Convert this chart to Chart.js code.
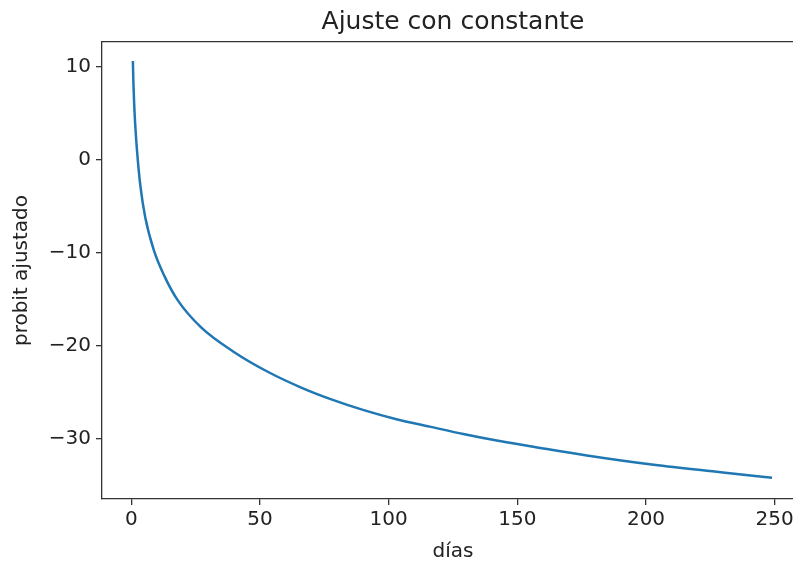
<!DOCTYPE html>
<html>
<head>
<meta charset="utf-8">
<script src="https://cdn.jsdelivr.net/npm/chart.js@4/dist/chart.umd.min.js"></script>
<style>
  html, body { margin: 0; padding: 0; background: #fff; overflow: hidden; }
  #recorte { width: 793px; height: 562px; overflow: hidden; position: relative; }
  canvas { display: block; position: absolute; left: 0; top: 0; }
</style>
</head>
<body>
<div id="recorte"><canvas id="probitChart" width="804" height="562"></canvas></div>
<script>
// datos
const dias = [0.6, 0.8, 1.1, 1.5, 2.2, 3.5, 5.4, 8.7, 13, 18, 27, 40, 53, 66, 78, 90, 103, 116, 129, 142, 155, 177, 203, 229, 249];
const probit = [10.6, 8.3, 6.0, 3.8, 1.0, -2.8, -6.2, -9.7, -12.6, -15.1, -18.0, -20.7, -22.8, -24.5, -25.8, -26.9, -27.9, -28.7, -29.5, -30.2, -30.8, -31.8, -32.8, -33.6, -34.2];
const xTicks = [0, 50, 100, 150, 200, 250];
const yTicks = [-30, -20, -10, 0, 10];

const FONT = "'DejaVu Sans', sans-serif";
const TEXT = "#222";
const SPINE = "#333";

const minus = v => (v < 0 ? "\u2212" + Math.abs(v) : String(v));

// el original está recortado a la derecha, así que el lienzo es algo más ancho que la ventana
new Chart(document.getElementById("probitChart"), {
  type: "line",
  data: {
    datasets: [{
      data: dias.map((d, i) => ({ x: d, y: probit[i] })),
      borderColor: "#1f77b4",
      borderWidth: 2.5,
      pointRadius: 0,
      cubicInterpolationMode: "monotone",
      fill: false
    }]
  },
  options: {
    responsive: false,
    animation: false,
    layout: { padding: 0 },
    plugins: {
      legend: { display: false },
      tooltip: { enabled: false },
      title: { display: false }
    },
    scales: {
      x: {
        type: "linear",
        min: -11.4,
        max: 261.4,
        afterFit: s => { s.height = 63; },
        afterBuildTicks: s => { s.ticks = xTicks.map(v => ({ value: v })); },
        grid: { drawOnChartArea: false, tickLength: 6, color: SPINE, lineWidth: 1.3 },
        border: { display: true, color: SPINE, width: 1.3 },
        ticks: { color: TEXT, font: { family: FONT, size: 20 }, padding: 3, maxRotation: 0 },
        title: { display: true, text: "días", color: TEXT, font: { family: FONT, size: 20, lineHeight: 1.0 }, padding: 0 }
      },
      // eje superior: sólo el marco y el título centrado sobre el área del gráfico
      top: {
        type: "linear",
        position: "top",
        min: -11.4,
        max: 261.4,
        afterFit: s => { s.height = 42; },
        grid: { drawOnChartArea: false, drawTicks: false },
        border: { display: true, color: SPINE, width: 1.3 },
        ticks: { display: false },
        title: { display: true, text: "Ajuste con constante", color: TEXT, font: { family: FONT, size: 25 }, padding: { top: 7.5, bottom: 0 } }
      },
      y: {
        type: "linear",
        min: -36.48,
        max: 12.65,
        afterFit: s => { s.width = 102; },
        afterBuildTicks: s => { s.ticks = yTicks.map(v => ({ value: v })); },
        grid: { drawOnChartArea: false, tickLength: 6, color: SPINE, lineWidth: 1.3 },
        border: { display: true, color: SPINE, width: 1.3 },
        ticks: { color: TEXT, font: { family: FONT, size: 20 }, padding: 5, callback: minus },
        title: { display: true, text: "probit ajustado", color: TEXT, font: { family: FONT, size: 20 }, padding: 10 }
      }
    }
  }
});
</script>
</body>
</html>
